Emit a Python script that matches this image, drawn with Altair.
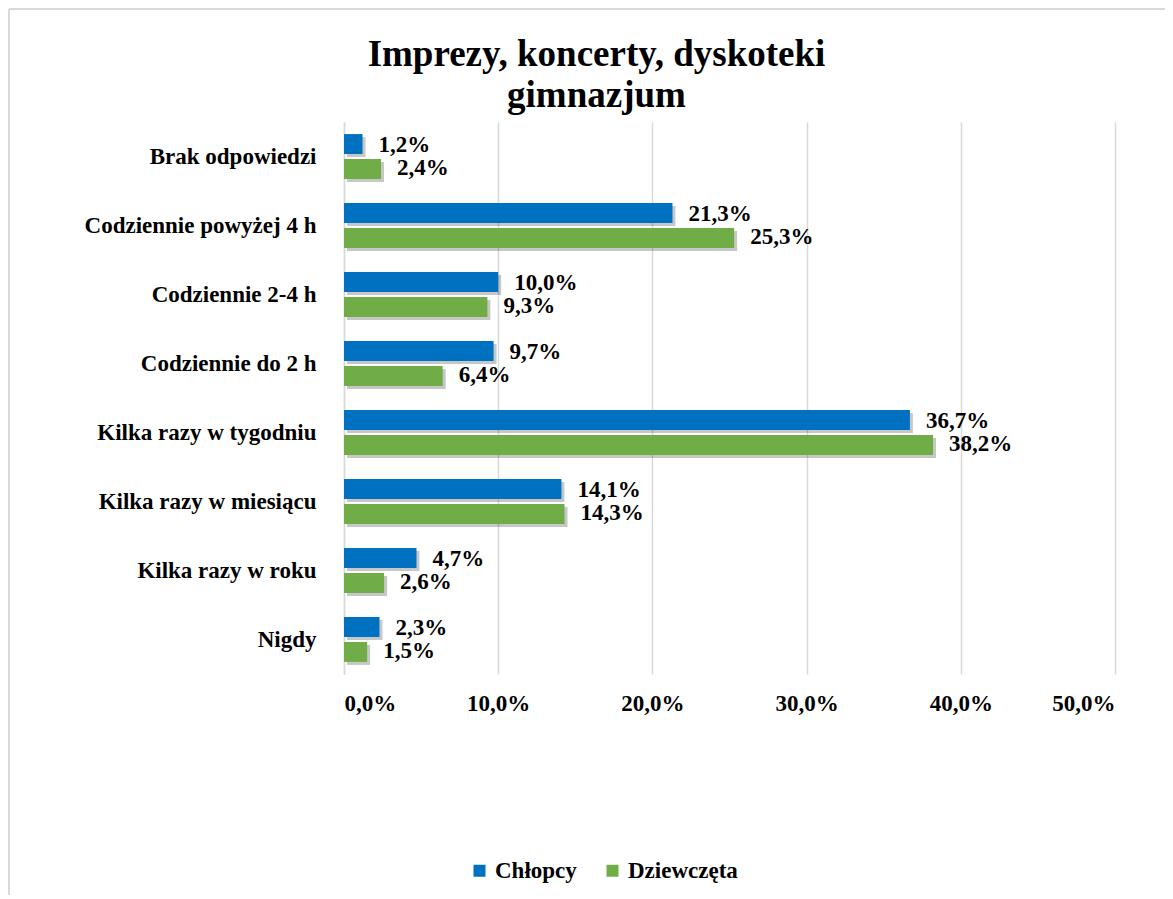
import altair as alt
import pandas as pd

categories = ["Brak odpowiedzi", "Codziennie powyżej 4 h", "Codziennie 2-4 h",
              "Codziennie do 2 h", "Kilka razy w tygodniu", "Kilka razy w miesiącu",
              "Kilka razy w roku", "Nigdy "]
series = ["Chłopcy", "Dziewczęta"]
boys = [1.2, 21.3, 10.0, 9.7, 36.7, 14.1, 4.7, 2.3]
girls = [2.4, 25.3, 9.3, 6.4, 38.2, 14.3, 2.6, 1.5]
x_ticks = [0, 10, 20, 30, 40, 50]
colors = ["#0070C0", "#70AD47"]
title_lines = ["Imprezy, koncerty, dyskoteki", "gimnazjum"]

rows = []
for c, b, g in zip(categories, boys, girls):
    rows.append({"category": c, "series": series[0], "value": b})
    rows.append({"category": c, "series": series[1], "value": g})
df = pd.DataFrame(rows)

FONT = "Liberation Serif"
W, H = 771, 552
PL, PT, PR, PB = 336, 114, 50, 221
STEP = H / len(categories)
BAND = STEP * 0.65
SH = 3  # shadow offset in px
PX_PER_UNIT = W / 50.0

y_enc = alt.Y("category:N", sort=categories, title=None,
              scale=alt.Scale(paddingInner=0.35, paddingOuter=0.175),
              axis=alt.Axis(domain=True, domainColor="#d9d9d9", domainWidth=1.5,
                            grid=False, ticks=False, labelPadding=28, labelFontSize=23,
                            labelFont=FONT, labelFontWeight="bold", labelColor="#000000",
                            labelLimit=400))
yoff_enc = alt.YOffset("series:N", sort=series, scale=alt.Scale(paddingInner=0.2))
yoff_shadow = alt.YOffset("series:N", sort=series,
                          scale=alt.Scale(paddingInner=0.2, range=[SH, BAND + SH]))
x_scale = alt.Scale(domain=[0, 50], nice=False, zero=True)
x_axis = alt.Axis(values=x_ticks, grid=True, gridColor="#d9d9d9", gridWidth=1.5,
                  domain=False, ticks=False, labelPadding=18,
                  labelExpr="replace(format(datum.value, '.1f'), '.', ',') + '%'",
                  labelFontSize=23, labelFont=FONT, labelFontWeight="bold",
                  labelColor="#000000")
x_enc = alt.X("value:Q", title=None, scale=x_scale, axis=x_axis)

base = alt.Chart(df).transform_calculate(
    label="replace(format(datum.value, '.1f'), '.', ',') + '%'"
)

shadow = base.transform_calculate(
    sx=f"datum.value + {SH / PX_PER_UNIT}", s0=f"{SH / PX_PER_UNIT}"
).mark_bar(color="#000000", opacity=0.22).encode(
    x=alt.X("s0:Q", title=None, scale=x_scale, axis=x_axis),
    x2="sx:Q",
    y=y_enc, yOffset=yoff_shadow
)

bars = base.mark_bar().encode(
    x=x_enc, y=y_enc, yOffset=yoff_enc,
    color=alt.Color("series:N", sort=series,
                    scale=alt.Scale(domain=series, range=colors),
                    legend=alt.Legend(title=None, orient="none", direction="horizontal",
                                      legendX=124, legendY=737, padding=0,
                                      symbolType="square", symbolSize=144,
                                      symbolStrokeWidth=0, labelOffset=4,
                                      columnPadding=24, labelFont=FONT,
                                      labelFontSize=23, labelFontWeight="bold",
                                      labelColor="#000000", labelLimit=300))
)

labels = base.mark_text(align="left", baseline="middle", dx=16, font=FONT,
                        fontSize=23, fontWeight="bold", color="#000000").encode(
    x=alt.X("value:Q", title=None, scale=x_scale, axis=x_axis),
    y=alt.Y("category:N", sort=categories), yOffset=yoff_enc,
    text="label:N"
)

border_v = base.mark_rule(color="#d9d9d9", strokeWidth=2).encode(
    x=alt.value(-335), y=alt.value(-113), y2=alt.value(H + PB)
)
border_h = base.mark_rule(color="#d9d9d9", strokeWidth=2).encode(
    x=alt.value(-335), x2=alt.value(W + PR), y=alt.value(-113)
)

chart = alt.layer(border_v, border_h, shadow, bars, labels).resolve_scale(
    yOffset="independent"
).properties(
    width=W, height=H,
    padding={"left": PL, "top": PT, "right": PR, "bottom": PB},
    autosize=alt.AutoSizeParams(type="none"),
    view=alt.ViewBackground(stroke="transparent", strokeWidth=0),
    title=alt.TitleParams(text=title_lines, font=FONT, fontSize=37, fontWeight="bold",
                          color="#000000", anchor="middle", frame="group", dx=-133,
                          offset=-107, lineHeight=41),
).configure_view(
    stroke="transparent", strokeWidth=0, strokeOpacity=0
).configure(background="#ffffff")

chart.save("out.html", embed_options={"renderer": "svg", "actions": False})
